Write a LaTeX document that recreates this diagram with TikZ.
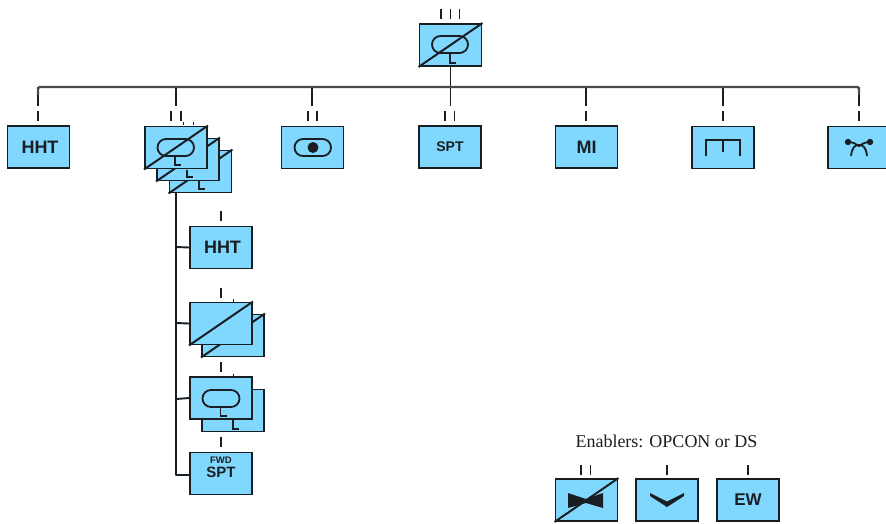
\documentclass[tikz,border=0pt]{standalone}
\usepackage{fontspec}
\setmainfont{Liberation Serif}
\setsansfont{Liberation Sans}
\definecolor{boxblue}{RGB}{128,216,255}
\definecolor{ink}{RGB}{25,30,35}
\definecolor{bus}{RGB}{75,75,75}
\tikzset{
  unit/.style={draw=ink,line width=1.9pt,fill=boxblue,minimum width=62pt,minimum height=42pt,inner sep=0pt,font=\sffamily\bfseries,text=ink},
  link/.style={draw=ink,line width=1.9pt},
  trunk/.style={draw=bus,line width=2.4pt},
  tick/.style={draw=ink,line width=1.9pt},
  sym/.style={draw=ink,line width=1.8pt},
  slash/.style={draw=ink,line width=2pt},
}
\newcommand{\hhtxt}[1]{\fontsize{#1}{#1}\selectfont}
\begin{document}
\begin{tikzpicture}[x=1pt,y=-1pt]
\useasboundingbox (0,0) rectangle (886,523);
\begin{scope}
\clip (0,0) rectangle (886,523);
% top unit
\node[unit] (top) at (450.5,45) {};
\draw[slash] (top.south west) -- (top.north east);
\draw[sym,rounded corners=8.5pt] (432,36) rectangle (468,53);
\draw[sym] (450,53) -- (450,63) -- (456,63);
\foreach \x in {441,450.5,459.5} \draw[tick] (\x,9) -- (\x,19);
% bus
\coordinate (busL) at (38,87);
\coordinate (busR) at (859,87);
\draw[link] (top.south) -- (450.5,106);
% row
\node[unit,font=\sffamily\bfseries\hhtxt{18}] (hht) at (38.5,147) {\hspace{3pt}HHT};
\draw[tick,line width=1pt] (183,122) -- (183,125) (193,122) -- (193,125);
\node[unit] (s3) at (200.5,171.5) {};
\draw[slash] (s3.south west) -- (s3.north east);
\draw[sym] (199,175) -- (199,189) -- (205,189);
\node[unit] (s2) at (188,159.5) {};
\draw[slash] (s2.south west) -- (s2.north east);
\draw[sym] (187,170) -- (187,177) -- (193,177);
\node[unit] (s1) at (176,147.5) {};
\draw[slash] (s1.south west) -- (s1.north east);
\draw[sym,rounded corners=8.5pt] (157.5,139) rectangle (194,156);
\draw[sym] (175,156) -- (175,165) -- (181,165);
\node[unit] (dot) at (312.5,147.5) {};
\draw[sym,rounded corners=8.5pt] (294.5,139) rectangle (331,156);
\fill[ink] (313,147.5) circle (5.5pt);
\node[unit,font=\sffamily\bfseries\hhtxt{14}] (spt) at (450,147) {SPT};
\node[unit,font=\sffamily\bfseries\hhtxt{18}] (mi) at (586.5,147) {MI};
\node[unit] (tr) at (723,147.5) {};
\draw[sym] (706,156) -- (706,140) -- (740,140) -- (740,156);
\draw[sym] (723,140) -- (723,152);
\node[unit] (ar) at (859,147.5) {};
\draw[sym] (851,156) .. controls (852,147) and (855,145) .. (859,145) .. controls (863,145) and (866,147) .. (867,156);
\draw[sym] (848,142) .. controls (853,142) and (856,144) .. (859,146) .. controls (862,144) and (865,142) .. (870,142);
\fill[ink] (848,142) circle (3.2pt) (870,142) circle (3.2pt);
% row connectors
\foreach \n/\x in {hht/38,s1/176,dot/312,mi/586,tr/723,ar/859} {
  \coordinate (up\n) at (\x,87);
  \coordinate (lo\n) at (\x,106);
  \draw[link] (up\n) -- (lo\n);
}
\draw[trunk,rounded corners=1.5pt] (lohht |- 0,95) -- (busL) -- (busR) -- (loar |- 0,95);
\draw[tick] (38,111) -- (38,121);
\draw[tick] (171,111) -- (171,121) (181,111) -- (181,121);
\draw[tick] (308,111) -- (308,121) (317,111) -- (317,121);
\draw[tick] (445,111) -- (445,121) (454.5,111) -- (454.5,121);
\draw[tick] (586,111) -- (586,121);
\draw[tick] (723,111) -- (723,121);
\draw[tick] (859,111) -- (859,121);
% column
\node[unit,font=\sffamily\bfseries\hhtxt{18}] (c1) at (221,247.5) {\hspace{3pt}HHT};
\draw[tick,line width=1pt] (233,299) -- (233,302) (233,374) -- (233,377);
\node[unit] (c2b) at (233,335.5) {};
\draw[slash] (c2b.south west) -- (c2b.north east);
\node[unit] (c2) at (221,323.5) {};
\draw[slash] (c2.south west) -- (c2.north east);
\node[unit] (c3b) at (233,410.5) {};
\draw[sym] (233,420) -- (233,429) -- (239,429);
\node[unit] (c3) at (221,398) {};
\draw[sym,rounded corners=8.5pt] (202.5,390) rectangle (239.5,407);
\draw[sym] (220.5,407) -- (220.5,416) -- (227,416);
\node[unit] (c4) at (221,473.5) {};
\node[font=\sffamily\bfseries\hhtxt{9.5},text=ink] (c4a) at (221,460) {FWD};
\node[font=\sffamily\bfseries\hhtxt{15},text=ink] (c4b) at (221,472.5) {SPT};
\coordinate (c0) at (176,193);
\coordinate (cend) at (176,475);
\draw[link,line join=round] (c0) -- (cend) -- (c4.west |- cend);
\draw[link] (176,247) -- (c1.west);
\draw[link] (176,323) -- (c2.west);
\draw[link] (176,399) -- (c3.west);
\foreach \y in {211,288,362,437} \draw[tick] (221,\y) -- (221,\y+10);
% bottom
\node[font=\hhtxt{18},text=ink] (en) at (666.5,441) {Enablers: OPCON or DS};
\node[unit] (e1) at (586.5,500) {};
\fill[ink] (568,493) -- (586,499) -- (603,493) -- (603,508) -- (586,503) -- (568,508) -- cycle;
\draw[slash] (e1.south west) -- (e1.north east);
\node[unit] (e2) at (667,500) {};
\fill[ink] (650,493) -- (667,501.5) -- (684,493) -- (684,496) -- (667,507) -- (650,496) -- cycle;
\node[unit,font=\sffamily\bfseries\hhtxt{17}] (e3) at (748,500) {EW};
\draw[tick] (581,465) -- (581,475) (590.5,465) -- (590.5,475);
\draw[tick] (667,465) -- (667,475);
\draw[tick] (748,465) -- (748,475);
\end{scope}
\end{tikzpicture}
\end{document}
